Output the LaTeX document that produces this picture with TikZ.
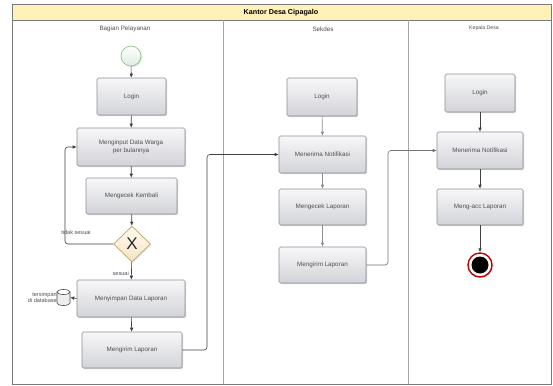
\documentclass[tikz,border=0pt]{standalone}
\usepackage{fontspec}
\setmainfont{Liberation Sans}
\usetikzlibrary{shapes.geometric, arrows.meta, shadows}

\definecolor{boxtop}{HTML}{F7F7F9}
\definecolor{boxbot}{HTML}{D2D3D8}
\definecolor{boxline}{HTML}{8C8E96}
\definecolor{txt}{HTML}{505050}
\definecolor{band}{HTML}{FFF1B8}
\definecolor{frameline}{HTML}{7A7A7A}
\definecolor{gateline}{HTML}{CDAE78}
\definecolor{gatetop}{HTML}{FFFBF0}
\definecolor{gatebot}{HTML}{F4E4C4}
\definecolor{startline}{HTML}{8FC48F}
\definecolor{startbot}{HTML}{DDEDDD}

\tikzset{
  act/.style={draw=boxline, line width=0.6bp, rounded corners=1.5bp,
    top color=boxtop, bottom color=boxbot, text=txt,
    font=\fontsize{6.3}{7.6}\selectfont, align=center,
    drop shadow={shadow xshift=1.2bp, shadow yshift=-1.2bp, opacity=0.35, fill=gray}},
  flow/.style={draw=black!75, line width=0.6bp, -{Latex[length=4bp,width=3.6bp]}},
  elbow/.style={flow, rounded corners=3bp},
  lbl/.style={text=txt, font=\fontsize{5.6}{6.4}\selectfont, inner sep=0pt},
  lane/.style={draw=frameline, line width=0.7bp},
  dbline/.style={draw=black!70, line width=0.6bp},
}

\begin{document}
\begin{tikzpicture}[x=1bp, y=-1bp]
  % canvas
  \useasboundingbox (0,0) rectangle (553,385);
  \fill[white] (0,0) rectangle (553,385);

  % pool frame, title band and lane dividers
  \fill[band] (12,4) rectangle (551,20);
  \draw[lane] (12,4) rectangle (551,384);
  \draw[lane] (12,20) -- (551,20);
  \draw[lane, draw=black!35] (223,20) -- (223,384);
  \draw[lane, draw=black!35] (408,20) -- (408,384);
  \node[font=\bfseries\fontsize{7.2}{8}\selectfont] (title) at (281,12.5) {Kantor Desa Cipagalo};

  % lane headings
  \node[lbl, font=\fontsize{6.3}{7}\selectfont] (h1) at (125,29) {Bagian Pelayanan};
  \node[lbl, font=\fontsize{6.3}{7}\selectfont] (h2) at (323,29.5) {Sekdes};
  \node[lbl, font=\fontsize{5.2}{6}\selectfont] (h3) at (484,28.5) {Kepala Desa};

  % ---- Bagian Pelayanan ----
  \node[circle, draw=startline, line width=0.7bp, minimum size=20bp, inner sep=0pt,
        top color=white, bottom color=startbot,
        drop shadow={shadow xshift=1bp, shadow yshift=-1bp, opacity=0.25, fill=gray}] (start) at (131,56) {};
  \node[act, minimum width=69bp, minimum height=37bp] (login1) at (131.5,96.5) {Login};
  \node[act, minimum width=108bp, minimum height=38bp] (input) at (131,147) {Menginput Data Warga\\per bulannya};
  \node[act, minimum width=91bp, minimum height=36bp] (cek1) at (131.5,196) {Mengecek Kembali};
  \node[diamond, draw=gateline, line width=0.9bp, minimum width=37bp, minimum height=36bp,
        inner sep=0pt, top color=gatetop, bottom color=gatebot,
        drop shadow={shadow xshift=1bp, shadow yshift=-1bp, opacity=0.2, fill=gray},
        font=\fontsize{17}{17}\selectfont, text=black!85] (dec) at (132,244) {X};
  \node[act, minimum width=108bp, minimum height=37bp] (simpan) at (131,298.5) {Menyimpan Data Laporan};
  \node[act, minimum width=100bp, minimum height=36bp] (kirim1) at (132,350) {Mengirim Laporan};

  % database store: an invisible frame node with a drawn cylinder inside
  \node[minimum width=13bp, minimum height=16bp, inner sep=0pt] (db) at (63.5,297.5) {};
  \begin{scope}[shift={(db.center)}]
    \filldraw[dbline, fill=gray!14] (-6.5,-5.5) -- (-6.5,5.5)
      arc[start angle=180, end angle=0, x radius=6.5, y radius=2.5] -- (6.5,-5.5) -- cycle;
    \filldraw[dbline, fill=white] (0,-5.5) ellipse[x radius=6.5, y radius=2.5];
  \end{scope}
  \node[lbl, align=right, anchor=east] (dbtxt) at (57,297.5) {tersimpan\\di database};

  \coordinate (loopc) at (65,147);
  \coordinate (hop1) at (207,154.5);

  \draw[flow] (start) -- (login1);
  \draw[flow] (login1) -- (input);
  \draw[flow] (input) -- (cek1);
  \draw[flow] (cek1) -- (dec);
  \draw[elbow] (dec.west) -| (loopc) -- (input.west);
  \node[lbl] (tidak) at (76,232) {tidak sesuai};
  \draw[flow] (dec) -- (simpan);
  \node[lbl, anchor=east] (sesuai) at (129,273) {sesuai};
  \draw[flow] (simpan.west) -- (db.east);
  \draw[flow] (simpan) -- (kirim1);

  % ---- Sekdes ----
  \node[act, minimum width=70bp, minimum height=38bp] (login2) at (322,97) {Login};
  \node[act, minimum width=87bp, minimum height=37bp] (notif2) at (322.5,154.5) {Menerima Notifikasi};
  \node[act, minimum width=87bp, minimum height=36bp] (cek2) at (322.5,207) {Mengecek Laporan};
  \node[act, minimum width=87bp, minimum height=36bp] (kirim2) at (322.5,265) {Mengirim Laporan};

  \draw[elbow] (kirim1.east) -| (hop1) -- (notif2.west);
  \draw[flow, draw=black!45] (login2) -- (notif2);
  \draw[flow, draw=black!45] (notif2) -- (cek2);
  \draw[flow, draw=black!45] (cek2) -- (kirim2);

  % ---- Kepala Desa ----
  \node[act, minimum width=70bp, minimum height=38bp] (login3) at (480,93) {Login};
  \node[act, minimum width=86bp, minimum height=37bp] (notif3) at (480,150.5) {Menerima Notifikasi};
  \node[act, minimum width=86bp, minimum height=36bp] (acc) at (480,207) {Meng-acc Laporan};
  \node[circle, draw=red!75!black, line width=1.4bp, fill=white, minimum size=24bp, inner sep=0pt,
        drop shadow={shadow xshift=1bp, shadow yshift=-1bp, opacity=0.25, fill=gray}] (end) at (480,265) {};
  \node[circle, fill=black, minimum size=17bp, inner sep=0pt] (endcore) at (end.center) {};

  \coordinate (hop2) at (388,150.5);
  \draw[elbow, draw=black!55] (kirim2.east) -| (hop2) -- (notif3.west);

  \draw[flow] (login3) -- (notif3);
  \draw[flow] (notif3) -- (acc);
  \draw[flow] (acc) -- (end);
\end{tikzpicture}
\end{document}
